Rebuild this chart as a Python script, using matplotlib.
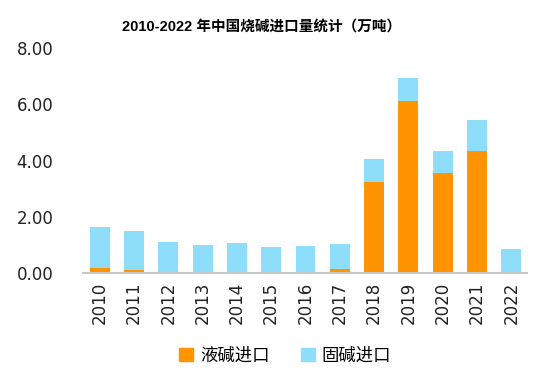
import matplotlib
matplotlib.use("Agg")
import matplotlib.pyplot as plt
from matplotlib.patches import Patch
import numpy as np

years = ["2010", "2011", "2012", "2013", "2014", "2015", "2016",
         "2017", "2018", "2019", "2020", "2021", "2022"]
liquid = [0.18, 0.12, 0.04, 0.0, 0.03, 0.0, 0.03, 0.13, 3.25, 6.11, 3.56, 4.35, 0.03]
solid_total = [1.64, 1.49, 1.10, 1.00, 1.07, 0.92, 0.97, 1.04, 4.06, 6.95, 4.35, 5.44, 0.85]
solid = [t - l for t, l in zip(solid_total, liquid)]
yticks = [0, 2, 4, 6, 8]

title = "2010-2022 年中国烧碱进口量统计（万吨）"
series_names = ["液碱进口", "固碱进口"]
c_orange = "#FF9300"
c_blue = "#8EDEFB"

cjk = ["Noto Sans CJK SC", "DejaVu Sans"]

fig = plt.figure(figsize=(5.43, 3.82), dpi=100)
ax = fig.add_axes([0.152, 0.285, 0.818, 0.589])
x = np.arange(len(years))
ax.bar(x, liquid, width=0.58, color=c_orange)
ax.bar(x, solid, width=0.58, bottom=liquid, color=c_blue)

ax.set_xlim(-0.5, 12.45)
ax.set_ylim(0, 8)
ax.set_yticks(yticks)
ax.set_yticklabels([f"{v:.2f}" for v in yticks], fontsize=12, color="#222222",
                   family="DejaVu Sans")
ax.set_xticks(x)
ax.set_xticklabels(years, rotation=90, fontsize=12, color="#222222",
                   family="DejaVu Sans")
ax.tick_params(axis='both', length=0)
ax.tick_params(axis='y', pad=21)
ax.tick_params(axis='x', pad=6)
for s in ["left", "right", "top"]:
    ax.spines[s].set_visible(False)
ax.spines["bottom"].set_color("#C8C8C8")
ax.spines["bottom"].set_linewidth(1.5)

fig.text(0.481, 0.927, title, ha="center", va="center", fontsize=10.5,
         fontweight="bold", family=["Liberation Sans", "Noto Sans CJK SC"])

handles = [Patch(color=c_orange), Patch(color=c_blue)]
leg = fig.legend(handles, series_names, loc="center", bbox_to_anchor=(0.525, 0.07),
                 ncol=2, frameon=False, handlelength=0.8, handleheight=0.8,
                 handletextpad=0.4, columnspacing=1.8,
                 prop={"family": cjk, "size": 12.5})

fig.savefig("out.png", dpi=100)
